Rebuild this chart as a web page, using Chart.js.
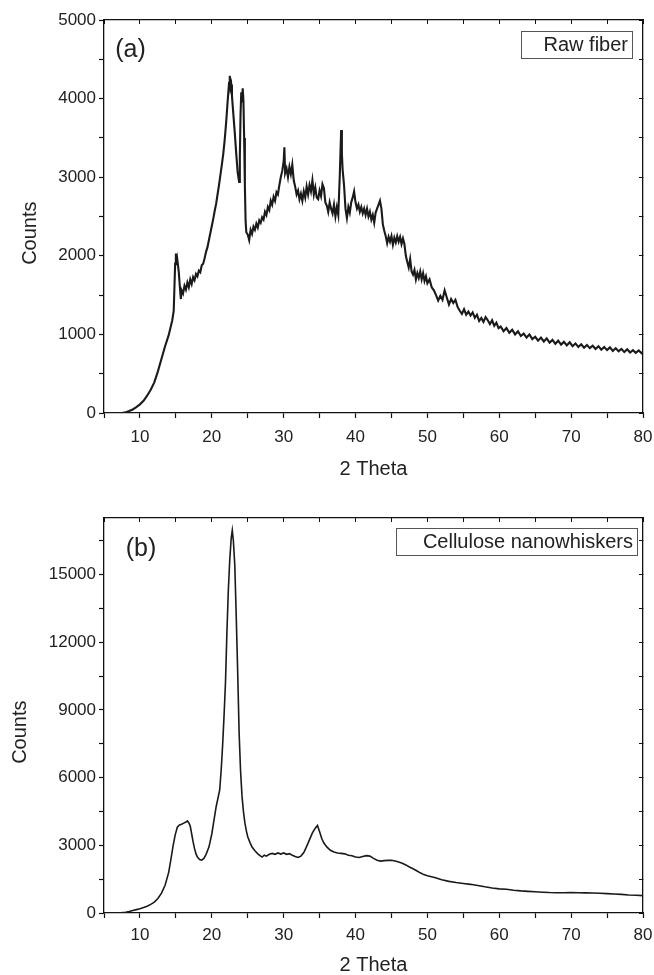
<!DOCTYPE html>
<html>
<head>
<meta charset="utf-8">
<script src="https://cdn.jsdelivr.net/npm/chart.js@4.4.1/dist/chart.umd.min.js"></script>
<style>
  body { margin: 0; background: #fff; }
  .panel { position: relative; width: 654px; }
  #panel-a { height: 480px; }
  #panel-b { height: 495px; }
</style>
</head>
<body>
<div class="panel" id="panel-a"><canvas id="chart-a"></canvas></div>
<div class="panel" id="panel-b"><canvas id="chart-b"></canvas></div>
<script>
// (a) raw fiber
const thetaA = [5, 6, 7, 7.5, 8, 8.5, 9, 9.5, 10, 10.5, 11, 11.5, 12, 12.5, 13, 13.5, 14, 14.5, 14.7, 14.8,
  14.9, 15.0, 15.1, 15.2, 15.4, 15.6, 15.7, 15.8, 16.0, 16.2, 16.4, 16.6, 16.8, 17.0, 17.2, 17.4, 17.6, 17.8, 18.0, 18.2,
  18.4, 18.6, 18.8, 19.0, 19.2, 19.4, 19.6, 19.8, 20.0, 20.2, 20.4, 20.6, 20.8, 21.0, 21.2, 21.4, 21.6, 21.8, 22.0, 22.2,
  22.4, 22.5, 22.6, 22.7, 22.8, 23.0, 23.2, 23.4, 23.6, 23.8, 23.9, 24.0, 24.1, 24.2, 24.3, 24.4, 24.5, 24.6, 24.7, 24.8,
  25.0, 25.2, 25.4, 25.6, 25.8, 26.0, 26.2, 26.4, 26.6, 26.8, 27.0, 27.2, 27.4, 27.6, 27.8, 28.0, 28.2, 28.4, 28.6, 28.8,
  29.0, 29.2, 29.4, 29.6, 29.8, 30.0, 30.1, 30.2, 30.4, 30.6, 30.8, 31.0, 31.2, 31.4, 31.6, 31.8, 32.0, 32.2, 32.4, 32.6,
  32.8, 33.0, 33.2, 33.4, 33.6, 33.8, 34.0, 34.2, 34.4, 34.6, 34.8, 35.0, 35.2, 35.4, 35.6, 35.8, 36.0, 36.2, 36.4, 36.6,
  36.8, 37.0, 37.2, 37.4, 37.6, 37.8, 38.0, 38.1, 38.2, 38.4, 38.6, 38.8, 39.0, 39.2, 39.4, 39.6, 39.8, 40.0, 40.2, 40.4,
  40.6, 40.8, 41.0, 41.2, 41.4, 41.6, 41.8, 42.0, 42.2, 42.4, 42.6, 42.8, 43.0, 43.2, 43.4, 43.6, 43.8, 44.0, 44.2, 44.4,
  44.6, 44.8, 45.0, 45.2, 45.4, 45.6, 45.8, 46.0, 46.2, 46.4, 46.6, 46.8, 47.0, 47.2, 47.4, 47.6, 47.8, 48.0, 48.2, 48.4,
  48.6, 48.8, 49.0, 49.2, 49.4, 49.6, 49.8, 50.0, 50.3, 50.6, 50.9, 51.2, 51.5, 51.8, 52.1, 52.4, 52.7, 53.0, 53.3, 53.6,
  53.9, 54.2, 54.5, 54.8, 55.1, 55.4, 55.7, 56.0, 56.3, 56.6, 56.9, 57.2, 57.5, 57.8, 58.1, 58.4, 58.7, 59.0, 59.3, 59.6,
  59.9, 60.2, 60.6, 61.0, 61.4, 61.8, 62.2, 62.6, 63.0, 63.4, 63.8, 64.2, 64.6, 65.0, 65.4, 65.8, 66.2, 66.6, 67.0, 67.4,
  67.8, 68.2, 68.6, 69.0, 69.4, 69.8, 70.2, 70.6, 71.0, 71.4, 71.8, 72.2, 72.6, 73.0, 73.4, 73.8, 74.2, 74.6, 75.0, 75.4,
  75.8, 76.2, 76.6, 77.0, 77.4, 77.8, 78.2, 78.6, 79.0, 79.4, 79.8, 80.0];
const countsA = [0, 0, 0, 0, 8, 25, 45, 75, 110, 155, 220, 295, 390, 530, 690, 850, 990, 1180, 1300, 1600,
  1900, 2030, 1880, 1950, 1800, 1550, 1450, 1560, 1520, 1620, 1570, 1660, 1600, 1700, 1640, 1730, 1690, 1770, 1740, 1810,
  1790, 1880, 1900, 1970, 2050, 2110, 2200, 2290, 2380, 2470, 2570, 2660, 2780, 2900, 3030, 3160, 3300, 3480, 3700, 3960,
  4200, 4290, 4140, 4180, 4040, 3800, 3560, 3300, 3060, 2940, 3250, 3800, 4080, 3950, 4130, 3980, 3500, 2900, 2450, 2300,
  2270, 2200, 2330, 2280, 2370, 2330, 2410, 2360, 2450, 2420, 2490, 2460, 2560, 2520, 2620, 2580, 2700, 2650, 2750, 2700,
  2810, 2780, 2900, 3000, 3080, 3200, 3380, 3050, 3110, 3000, 3130, 3040, 3160, 2960, 2880, 2780, 2830, 2720, 2790, 2700,
  2820, 2740, 2880, 2780, 2900, 2820, 2960, 2780, 2870, 2740, 2720, 2830, 2760, 2910, 2860, 2680, 2640, 2560, 2680, 2600,
  2540, 2650, 2500, 2620, 2520, 3000, 3600, 3300, 3100, 2900, 2600, 2480, 2620, 2550, 2680, 2740, 2820, 2680, 2600, 2650,
  2560, 2620, 2540, 2600, 2520, 2600, 2500, 2560, 2460, 2520, 2420, 2550, 2600, 2650, 2700, 2600, 2400, 2320, 2250, 2160,
  2240, 2180, 2250, 2140, 2230, 2170, 2250, 2180, 2240, 2150, 2220, 2150, 2000, 1920, 1850, 1960, 1800, 1760, 1820, 1700,
  1780, 1720, 1800, 1700, 1780, 1680, 1740, 1650, 1700, 1600, 1560, 1500, 1430, 1490, 1440, 1560, 1470, 1380, 1450, 1400,
  1440, 1350, 1300, 1260, 1320, 1250, 1290, 1240, 1280, 1210, 1250, 1170, 1210, 1160, 1220, 1180, 1130, 1180, 1110, 1150,
  1080, 1100, 1040, 1080, 1020, 1060, 1000, 1040, 980, 1010, 960, 1000, 940, 970, 920, 960, 910, 950, 895, 930,
  880, 920, 870, 905, 860, 900, 850, 885, 840, 875, 830, 865, 825, 855, 815, 850, 805, 840, 800, 835,
  790, 825, 785, 815, 775, 810, 770, 800, 765, 795, 760, 780];

// (b) cellulose nanowhiskers
const thetaB = [5, 6, 6.5, 7, 7.5, 8, 8.5, 9, 9.5, 10, 10.5, 11, 11.5, 12, 12.5, 13, 13.5, 14, 14.3, 14.6,
  14.9, 15.2, 15.5, 15.8, 16.1, 16.4, 16.6, 16.8, 17.0, 17.2, 17.4, 17.6, 17.8, 18.0, 18.3, 18.6, 18.9, 19.2, 19.6, 20.0,
  20.3, 20.6, 20.9, 21.1, 21.3, 21.5, 21.7, 21.9, 22.1, 22.3, 22.5, 22.7, 22.85, 23.0, 23.2, 23.4, 23.6, 23.8, 24.0, 24.2,
  24.4, 24.6, 24.8, 25.0, 25.3, 25.6, 26.0, 26.4, 26.8, 27.0, 27.3, 27.6, 28.0, 28.4, 28.8, 29.2, 29.6, 30.0, 30.4, 30.8,
  31.2, 31.6, 32.0, 32.4, 32.8, 33.2, 33.6, 34.0, 34.4, 34.7, 35.0, 35.3, 35.6, 36.0, 36.5, 37.0, 37.5, 38.0, 38.5, 39.0,
  39.5, 40.0, 40.5, 41.0, 41.5, 42.0, 42.5, 43.0, 43.5, 44.0, 44.5, 45.0, 45.5, 46.0, 46.5, 47.0, 47.5, 48.0, 48.5, 49.0,
  49.5, 50, 51, 52, 53, 54, 55, 56, 57, 58, 59, 60, 61, 62, 63, 64, 65, 66, 67, 68,
  69, 70, 71, 72, 73, 74, 75, 76, 77, 78, 79, 80];
const countsB = [0, 0, 0, 5, 15, 35, 70, 110, 150, 190, 240, 300, 380, 480, 640, 880, 1230, 1800, 2350, 2950,
  3450, 3800, 3900, 3930, 3980, 4030, 4080, 4000, 3850, 3500, 3150, 2850, 2620, 2480, 2370, 2340, 2420, 2600, 2920, 3500,
  4100, 4700, 5150, 5450, 6300, 7400, 8700, 10180, 12400, 14300, 15650, 16600, 16950, 16500, 15400, 13140, 10700, 8000, 6300, 5200,
  4500, 4000, 3650, 3380, 3130, 2920, 2760, 2620, 2520, 2480, 2560, 2520, 2600, 2640, 2600, 2660, 2610, 2660, 2600, 2630,
  2560, 2500, 2460, 2520, 2680, 2950, 3250, 3550, 3760, 3880, 3600, 3300, 3100, 2930, 2780, 2700, 2660, 2640, 2620, 2560,
  2540, 2480, 2460, 2500, 2540, 2520, 2420, 2340, 2300, 2320, 2330, 2340, 2300, 2260, 2200, 2130, 2040, 1960, 1870, 1780,
  1700, 1650, 1570, 1470, 1400, 1350, 1310, 1270, 1220, 1160, 1110, 1070, 1050, 1010, 980, 960, 940, 920, 905, 900,
  900, 905, 900, 890, 885, 875, 860, 845, 825, 800, 785, 770];

// count axes: minor tick step and labelled step
const countStepA = 500, countLabelA = 1000, countMaxA = 5000;
const countStepB = 1500, countLabelB = 3000, countMaxB = 17500;

const FONT = '"Liberation Sans", Arial, sans-serif';
const INK = '#222';

// panel letter and the boxed sample name inside the plot area
const panelText = {
  id: 'panelText',
  afterDraw(chart, args, o) {
    const { ctx, chartArea } = chart;
    ctx.save();
    ctx.fillStyle = INK;
    ctx.font = '25px ' + FONT;
    ctx.textAlign = 'center';
    ctx.textBaseline = 'middle';
    ctx.fillText(o.tag, chartArea.left + o.tagX, chartArea.top + o.tagY);
    const bx = Math.round(chartArea.right - o.boxRight - o.boxWidth);
    const by = Math.round(chartArea.top + o.boxTop);
    ctx.strokeStyle = '#555';
    ctx.lineWidth = 1;
    ctx.strokeRect(bx + 0.5, by + 0.5, o.boxWidth, o.boxHeight);
    ctx.font = '20px ' + FONT;
    ctx.textAlign = 'right';
    ctx.fillText(o.label, bx + o.boxWidth - 4, by + o.boxHeight / 2 + 1);
    ctx.restore();
  }
};

// chart.js rounds the tick count when max is not a multiple of the step, so set them by hand
function countTicks(step, max) {
  return s => {
    const t = [];
    for (let v = 0; v <= max; v += step) t.push({ value: v });
    s.ticks = t;
  };
}

// fixed axis box sizes so the plot area lands where it is in the figure
function fixSize(prop, size) {
  return s => {
    s[prop] = size;
    s.paddingLeft = s.paddingRight = s.paddingTop = s.paddingBottom = 0;
  };
}

function makeChart(id, theta, counts, cfg) {
  const points = theta.map((t, i) => ({ x: t, y: counts[i] }));
  const mirror = {
    drawOnChartArea: false, tickLength: -4, tickColor: '#111', tickWidth: 1
  };
  return new Chart(document.getElementById(id), {
    type: 'line',
    data: {
      datasets: [{
        data: points,
        borderColor: '#1a1a1a',
        borderWidth: cfg.lineWidth,
        pointRadius: 0,
        tension: 0,
        fill: false
      }]
    },
    options: {
      responsive: true,
      maintainAspectRatio: false,
      animation: false,
      layout: { padding: 0 },
      plugins: {
        legend: { display: false },
        tooltip: { enabled: false },
        panelText: cfg.text
      },
      scales: {
        x: {
          type: 'linear', position: 'bottom', min: 5, max: 80,
          ticks: {
            stepSize: 5, autoSkip: false, maxRotation: 0, padding: cfg.xPad,
            color: INK, font: { family: FONT, size: 17 },
            callback: v => (v % 10 === 0 ? v : '')
          },
          grid: { drawOnChartArea: false, tickLength: 5, tickColor: '#111', tickWidth: 1.2 },
          border: { color: '#111', width: 1.3 },
          title: {
            display: true, text: '2 Theta', color: INK, padding: 0,
            font: { family: FONT, size: 20, lineHeight: cfg.titleLH }
          },
          afterFit: fixSize('height', cfg.bottom)
        },
        x2: {
          type: 'linear', position: 'top', min: 5, max: 80,
          ticks: { display: false, stepSize: 5 },
          grid: mirror,
          border: { color: '#111', width: 1.3 },
          afterFit: fixSize('height', cfg.top)
        },
        y: {
          type: 'linear', position: 'left', min: 0, max: cfg.yMax,
          afterBuildTicks: countTicks(cfg.yStep, cfg.yMax),
          ticks: {
            autoSkip: false, padding: 3,
            color: INK, font: { family: FONT, size: 17 },
            callback: v => (v % cfg.yLabelStep === 0 ? v : '')
          },
          grid: { drawOnChartArea: false, tickLength: 5, tickColor: '#111', tickWidth: 1.2 },
          border: { color: '#111', width: 1.3 },
          title: {
            display: true, text: 'Counts      ', color: INK,
            padding: { top: cfg.countsPad, bottom: 0 },
            font: { family: FONT, size: 20 }
          },
          afterFit: fixSize('width', 104)
        },
        y2: {
          type: 'linear', position: 'right', min: 0, max: cfg.yMax,
          afterBuildTicks: countTicks(cfg.yStep, cfg.yMax),
          ticks: { display: false },
          grid: mirror,
          border: { color: '#111', width: 1.3 },
          afterFit: fixSize('width', 11)
        }
      }
    },
    plugins: [panelText]
  });
}

makeChart('chart-a', thetaA, countsA, {
  yMax: countMaxA, yStep: countStepA, yLabelStep: countLabelA, lineWidth: 2.1,
  top: 20, bottom: 67, xPad: 9, titleLH: 1.1, countsPad: 18,
  text: { tag: '(a)', tagX: 26.5, tagY: 30.5, label: 'Raw fiber',
          boxRight: 11, boxTop: 11, boxWidth: 111, boxHeight: 27 }
});

makeChart('chart-b', thetaB, countsB, {
  yMax: countMaxB, yStep: countStepB, yLabelStep: countLabelB, lineWidth: 1.6,
  top: 38, bottom: 62, xPad: 7, titleLH: 1.0, countsPad: 8,
  text: { tag: '(b)', tagX: 37, tagY: 31, label: 'Cellulose nanowhiskers',
          boxRight: 6, boxTop: 9.5, boxWidth: 241, boxHeight: 27 }
});
</script>
</body>
</html>
